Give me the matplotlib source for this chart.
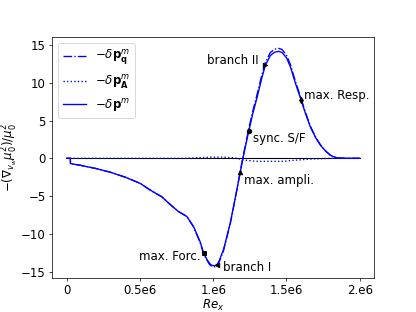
#! /usr/bin/env python3
"""
Momentum response curves -delta p^m against Re_x, with the
characteristic points (forcing, branches, amplitude, sync, response).
"""

import matplotlib

matplotlib.use("Agg")
import numpy as np
import matplotlib.pyplot as plt

plt.rcParams["font.size"] = 13

# Re_x in units of 1e6
re_x = [0, 0.025, 0.026, 0.1, 0.2, 0.3, 0.4, 0.5, 0.57, 0.65, 0.7, 0.76,
        0.82, 0.865, 0.91, 0.934, 0.955, 0.975, 0.99, 1.0, 1.01, 1.025,
        1.04, 1.07, 1.09, 1.116, 1.15, 1.185, 1.203, 1.242, 1.27, 1.3,
        1.33, 1.356, 1.39, 1.42, 1.447, 1.47, 1.5, 1.527, 1.56, 1.6, 1.63,
        1.664, 1.7, 1.733, 1.77, 1.8, 1.83, 1.85, 1.9, 2.0]

# total -delta p^m
dp_total = [0, 0, -0.7, -0.95, -1.35, -1.85, -2.5, -3.3, -4.2, -5.1, -6.0,
            -7.0, -7.7, -9.0, -11.0, -12.5, -13.3, -13.9, -14.15, -14.2,
            -14.2, -14.1, -13.6, -12.1, -10.6, -8.6, -5.3, -1.8, 0.0, 3.55,
            5.9, 8.1, 10.5, 12.3, 13.6, 14.05, 14.15, 14.0, 13.3, 12.1, 10.0,
            7.7, 5.9, 4.1, 2.7, 1.7, 0.9, 0.4, 0.15, 0.05, 0, 0]

# A part (small)
dp_a = [0, 0, 0, 0, 0, 0, 0, 0, 0, 0, 0, 0, 0, 0.05, 0.1, 0.1, 0.12, 0.15,
        0.15, 0.15, 0.15, 0.15, 0.15, 0.15, 0.12, 0.1, 0.05, -0.1, -0.2,
        -0.3, -0.35, -0.4, -0.4, -0.4, -0.4, -0.4, -0.4, -0.4, -0.37,
        -0.3, -0.25, -0.2, -0.15, -0.1, -0.07, -0.05, -0.02, 0, 0, 0, 0, 0]

# q part
dp_q = [0, 0, -0.7, -0.95, -1.35, -1.85, -2.5, -3.3, -4.2, -5.1, -6.0,
        -7.0, -7.7, -9.05, -11.1, -12.6, -13.4, -14.05, -14.3, -14.35,
        -14.35, -14.25, -13.75, -12.25, -10.7, -8.7, -5.35, -1.7, 0.2, 3.85,
        6.25, 8.5, 10.9, 12.7, 14.0, 14.45, 14.55, 14.4, 13.65, 12.4, 10.25,
        7.9, 6.05, 4.2, 2.77, 1.75, 0.92, 0.4, 0.15, 0.05, 0, 0]

# characteristic points
pt_names = ["max. Forc.", "branch I", "max. ampli.", "sync. S/F",
            "branch II", "max. Resp."]
pt_re = [0.934, 1.025, 1.185, 1.242, 1.356, 1.6]
pt_val = [-12.5, -14.1, -1.8, 3.55, 12.3, 7.7]
pt_marker = ["s", "<", "^", "o", ">", "d"]

tick_pos = [0, 0.5, 1.0, 1.5, 2.0]
tick_lab = ["0", "0.5e6", "1.e6", "1.5e6", "2.e6"]


def main():
    """
    Driver code
    """
    xs = np.array(re_x) * 1e6
    fig, ax = plt.subplots(figsize=(6.4, 4.8), dpi=65)

    ax.plot([xs[0], xs[-1]], [0, 0], "k-", lw=1.2)
    ax.plot(xs, dp_q, "b-.", lw=1.5, label=r"$-\delta\mathbf{p}^m_\mathbf{q}$")
    ax.plot(xs, dp_a, "b:", lw=1.5, label=r"$-\delta\mathbf{p}^m_\mathbf{A}$")
    ax.plot(xs, dp_total, "b-", lw=1.5, label=r"$-\delta\mathbf{p}^m$")

    for re, val, mk in zip(pt_re, pt_val, pt_marker):
        ax.plot(re * 1e6, val, color="k", marker=mk, ms=5, ls="none")

    # label placement (Re in 1e6, value, horizontal alignment)
    label_pos = [(0.911, -13.0, "right"), (1.066, -14.4, "left"),
                 (1.212, -3.0, "left"), (1.274, 2.6, "left"),
                 (1.308, 12.9, "right"), (1.623, 8.3, "left")]
    for name, (lx, ly, ha) in zip(pt_names, label_pos):
        ax.text(lx * 1e6, ly, name, ha=ha, va="center")

    ax.set_xticks(np.array(tick_pos) * 1e6)
    ax.set_xticklabels(tick_lab)
    ax.set_xlabel(r"$Re_x$", labelpad=1)
    ax.set_ylabel(r"$-(\nabla_{v_w}\mu_0^2)/\mu_0^2$", labelpad=1)
    ax.set_yticks([-15, -10, -5, 0, 5, 10, 15])
    ax.legend(loc="upper left")

    fig.savefig("out.png", dpi=65)


if __name__ == "__main__":
    main()
